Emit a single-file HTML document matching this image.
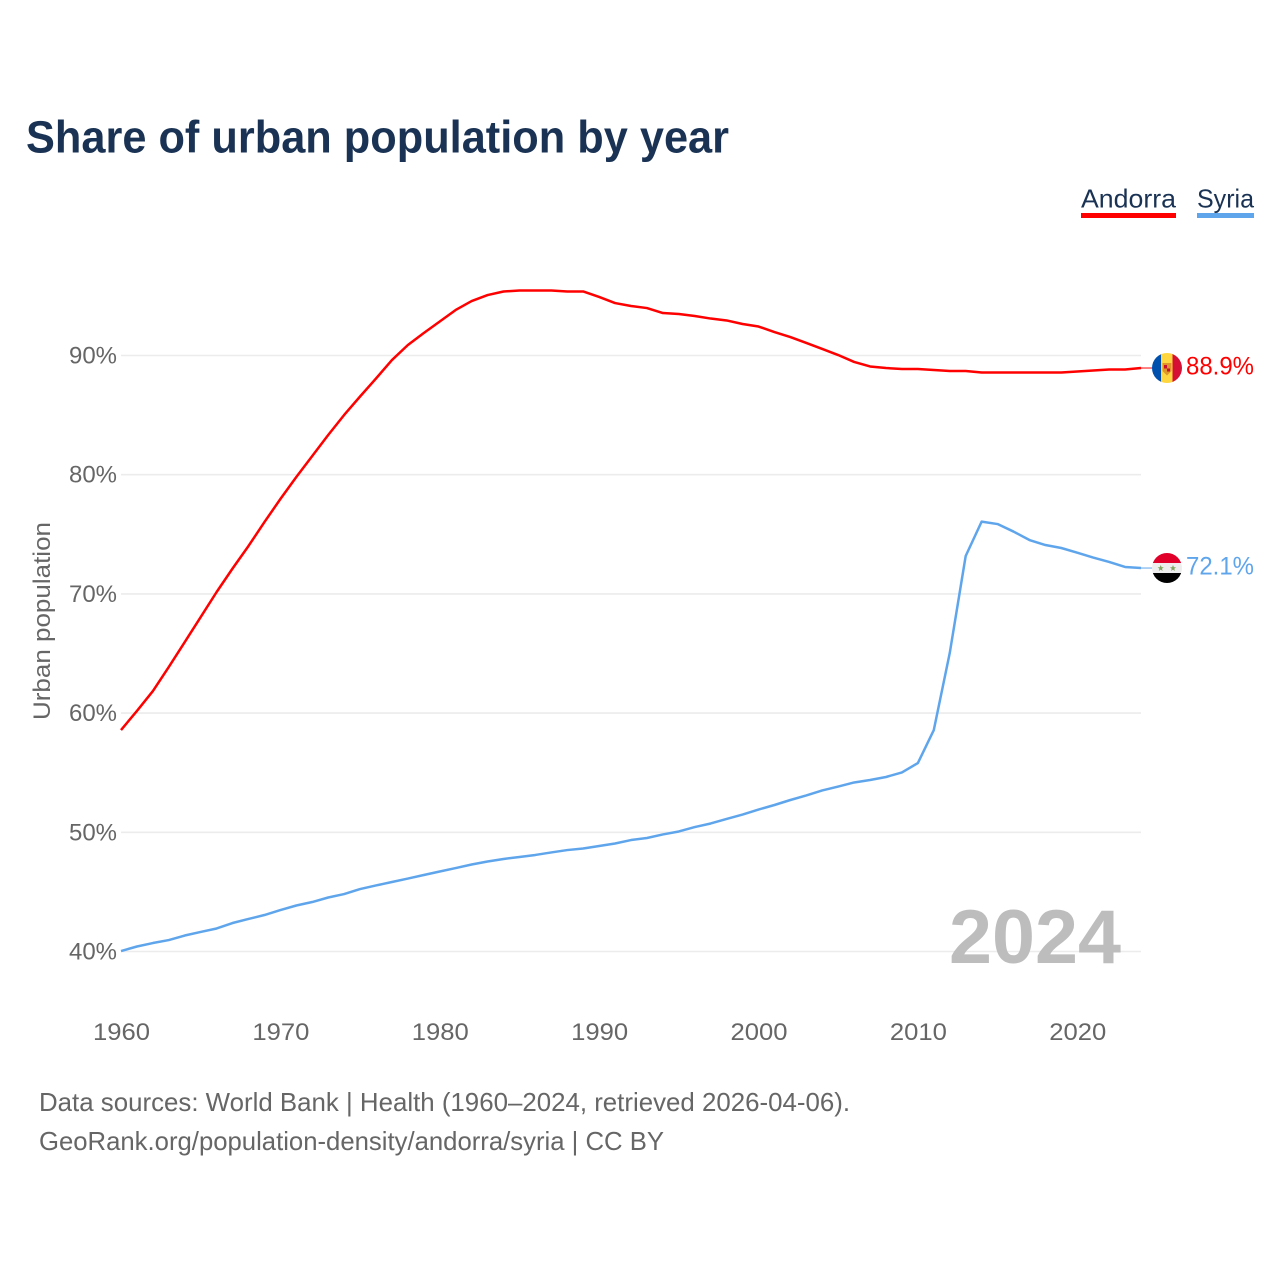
<!DOCTYPE html>
<html lang="en">
<head>
<meta charset="utf-8">
<title>Share of urban population by year</title>
<style>
html,body{margin:0;padding:0;background:#fff}
svg{display:block;font-family:"Liberation Sans",sans-serif}
</style>
</head>
<body>
<svg id="chart" xmlns="http://www.w3.org/2000/svg" width="1280" height="1280" viewBox="0 0 1280 1280">
  <rect x="0" y="0" width="1280" height="1280" fill="#ffffff"/>
  <text x="26" y="152.5" font-size="45" font-weight="700" fill="#1a3354" textLength="703" lengthAdjust="spacingAndGlyphs">Share of urban population by year</text>

  <g>
    <g>
      <text x="1081" y="207.5" font-size="26" fill="#1a3354" textLength="95" lengthAdjust="spacingAndGlyphs">Andorra</text>
      <rect x="1081" y="213" width="95" height="5" fill="#ff0000"/>
    </g>
    <g>
      <text x="1197" y="207.5" font-size="26" fill="#1a3354" textLength="57" lengthAdjust="spacingAndGlyphs">Syria</text>
      <rect x="1197" y="213" width="57" height="5" fill="#5fa5ec"/>
    </g>
  </g>

  <g id="grid"></g>
  <g id="yticks"></g>
  <g id="xticks"></g>

  <text transform="translate(50,621) rotate(-90)" text-anchor="middle" font-size="24" fill="#666666" textLength="198" lengthAdjust="spacingAndGlyphs">Urban population</text>

  <text x="949" y="963" font-size="76" font-weight="700" fill="#bdbdbd" textLength="172" lengthAdjust="spacingAndGlyphs">2024</text>

  <g id="series"></g>

  <defs>
    <clipPath id="clip-andorra"><circle cx="1167" cy="368" r="15"/></clipPath>
    <clipPath id="clip-syria"><circle cx="1167" cy="568" r="15"/></clipPath>
  </defs>

  <g clip-path="url(#clip-andorra)">
    <rect x="1152" y="353" width="9.5" height="30" fill="#0050ad"/>
    <rect x="1161" y="353" width="12" height="30" fill="#fed740"/>
    <rect x="1172.5" y="353" width="9.5" height="30" fill="#d60f35"/>
    <path d="M1162.5 363 H1171.5 V371 L1167 375.5 L1162.5 371 Z" fill="#e0962a"/>
    <rect x="1164" y="365" width="3" height="3.5" fill="#c8102e"/>
    <rect x="1167" y="368.5" width="3" height="3" fill="#c8102e"/>
  </g>
  <g clip-path="url(#clip-syria)">
    <rect x="1152" y="553" width="30" height="10" fill="#e0002a"/>
    <rect x="1152" y="563" width="30" height="10" fill="#eeeeee"/>
    <rect x="1152" y="573" width="30" height="10" fill="#000000"/>
    <polygon points="1160.7,565 1161.6,567.3 1163.7,567.3 1162,568.7 1162.6,571 1160.7,569.6 1158.8,571 1159.4,568.7 1157.7,567.3 1159.8,567.3" fill="#7fa65c"/>
    <polygon points="1173,565 1173.9,567.3 1176,567.3 1174.3,568.7 1174.9,571 1173,569.6 1171.1,571 1171.7,568.7 1170,567.3 1172.1,567.3" fill="#7fa65c"/>
  </g>

  <text x="1186" y="374.5" font-size="25" fill="#ff0000" textLength="68" lengthAdjust="spacingAndGlyphs">88.9%</text>
  <text x="1186" y="574.5" font-size="25" fill="#5fa5ec" textLength="68" lengthAdjust="spacingAndGlyphs">72.1%</text>

  <text x="39" y="1111" font-size="26" fill="#666666" textLength="811" lengthAdjust="spacingAndGlyphs">Data sources: World Bank | Health (1960–2024, retrieved 2026-04-06).</text>
  <text x="39" y="1150" font-size="26" fill="#666666" textLength="625" lengthAdjust="spacingAndGlyphs">GeoRank.org/population-density/andorra/syria | CC BY</text>
</svg>

<script>
const startYear = 1960;
const endYear = 2024;
const yTicks = [40, 50, 60, 70, 80, 90];
const xTicks = [1960, 1970, 1980, 1990, 2000, 2010, 2020];
const andorra = [
  58.58, 60.18, 61.85, 63.87, 65.96, 68.06, 70.16, 72.13, 74.02, 76.03,
  77.96, 79.81, 81.57, 83.33, 85.01, 86.56, 88.07, 89.62, 90.88, 91.89,
  92.85, 93.82, 94.57, 95.07, 95.37, 95.45, 95.45, 95.45, 95.37, 95.37,
  94.91, 94.40, 94.15, 93.98, 93.56, 93.48, 93.31, 93.10, 92.94, 92.64,
  92.43, 91.97, 91.55, 91.05, 90.55, 90.04, 89.46, 89.08, 88.95, 88.87,
  88.87, 88.78, 88.70, 88.70, 88.57, 88.57, 88.57, 88.57, 88.57, 88.57,
  88.66, 88.74, 88.83, 88.83, 88.95
];
const syria = [
  40.04, 40.42, 40.71, 40.96, 41.34, 41.64, 41.93, 42.39, 42.73, 43.06,
  43.48, 43.86, 44.15, 44.53, 44.82, 45.24, 45.54, 45.83, 46.12, 46.42,
  46.71, 47.00, 47.30, 47.55, 47.76, 47.93, 48.10, 48.31, 48.51, 48.64,
  48.85, 49.06, 49.35, 49.52, 49.82, 50.07, 50.44, 50.74, 51.12, 51.49,
  51.91, 52.29, 52.71, 53.09, 53.51, 53.84, 54.18, 54.39, 54.64, 55.02,
  55.81, 58.58, 65.04, 73.18, 76.06, 75.86, 75.23, 74.52, 74.10, 73.85,
  73.46, 73.05, 72.68, 72.26, 72.17
];

const NS = 'http://www.w3.org/2000/svg';
const plotLeft = 121;
const plotRight = 1141;
function xScale(year) {
  return plotLeft + (year - startYear) * (plotRight - plotLeft) / (endYear - startYear);
}
function yScale(value) {
  return 951.5 - (value - 40) * 11.92;
}

const gridGroup = document.getElementById('grid');
const yTickGroup = document.getElementById('yticks');
const xTickGroup = document.getElementById('xticks');
const seriesGroup = document.getElementById('series');

yTicks.forEach(function (tick) {
  const line = document.createElementNS(NS, 'line');
  
  
  line.setAttribute('x1', plotLeft);
  line.setAttribute('x2', plotRight);
  line.setAttribute('y1', yScale(tick));
  line.setAttribute('y2', yScale(tick));
  line.setAttribute('stroke', '#ececec');
  line.setAttribute('stroke-width', '1.6');
  gridGroup.appendChild(line);

  const label = document.createElementNS(NS, 'text');
  
  
  label.setAttribute('x', 69);
  label.setAttribute('y', yScale(tick) + 8);
  label.setAttribute('font-size', '24');
  label.setAttribute('fill', '#666666');
  label.setAttribute('textLength', '48');
  label.setAttribute('lengthAdjust', 'spacingAndGlyphs');
  label.textContent = tick + '%';
  yTickGroup.appendChild(label);
});

xTicks.forEach(function (tick) {
  const label = document.createElementNS(NS, 'text');
  
  
  label.setAttribute('x', xScale(tick) - 28);
  label.setAttribute('y', 1040);
  label.setAttribute('font-size', '24');
  label.setAttribute('fill', '#666666');
  label.setAttribute('textLength', '57');
  label.setAttribute('lengthAdjust', 'spacingAndGlyphs');
  label.textContent = tick;
  xTickGroup.appendChild(label);
});

function drawSeries(values, color, name) {
  const pts = values.map(function (v, i) {
    return xScale(startYear + i).toFixed(2) + ',' + yScale(v).toFixed(2);
  });
  const line = document.createElementNS(NS, 'polyline');
  
  
  line.setAttribute('points', pts.join(' '));
  line.setAttribute('fill', 'none');
  line.setAttribute('stroke', color);
  line.setAttribute('stroke-width', '2.5');
  line.setAttribute('stroke-linejoin', 'round');
  seriesGroup.appendChild(line);

  const lastY = yScale(values[values.length - 1]);
  const connector = document.createElementNS(NS, 'line');
  
  
  connector.setAttribute('x1', plotRight);
  connector.setAttribute('x2', 1153);
  connector.setAttribute('y1', lastY);
  connector.setAttribute('y2', lastY);
  connector.setAttribute('stroke', color);
  connector.setAttribute('stroke-width', '1');
  seriesGroup.appendChild(connector);
}

drawSeries(andorra, '#ff0000', 'andorra');
drawSeries(syria, '#5fa5ec', 'syria');
</script>
</body>
</html>
